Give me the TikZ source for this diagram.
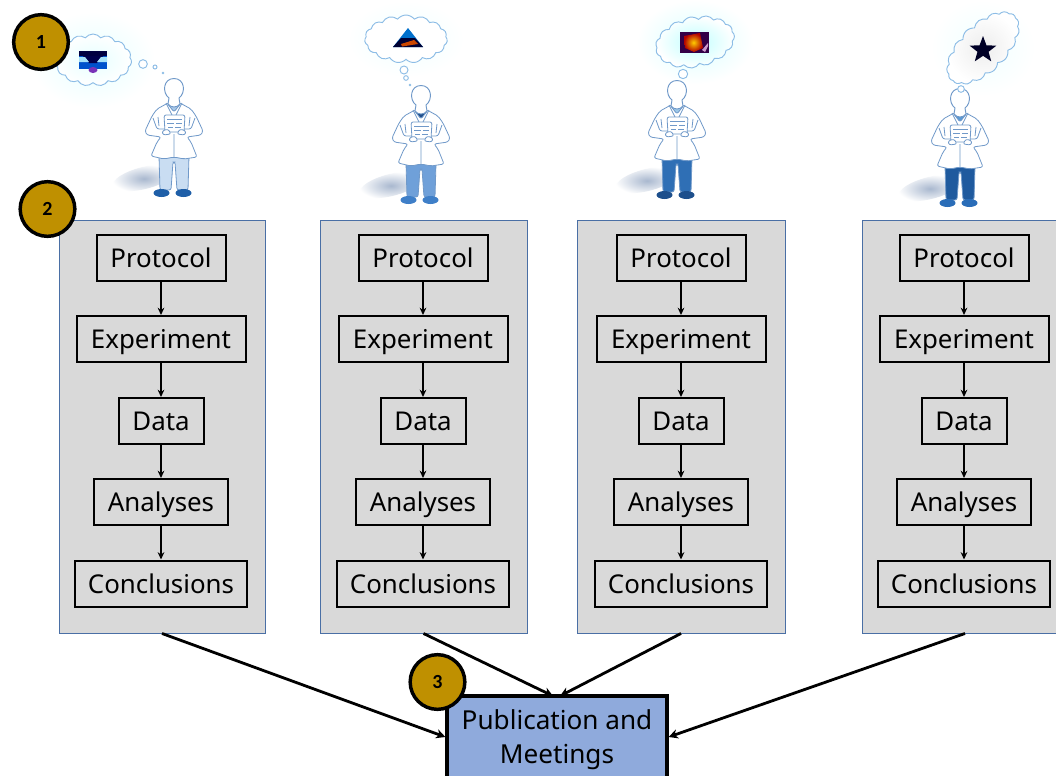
\documentclass[tikz,border=0pt]{standalone}
\usepackage{fontspec}
\setmainfont{Noto Sans}
\newfontfamily\badgefont{Carlito}
\usetikzlibrary{arrows.meta,shapes.symbols,shapes.geometric,calc}
\definecolor{panelfill}{HTML}{D9D9D9}
\definecolor{panelline}{HTML}{4A6FA5}
\definecolor{pubfill}{HTML}{8FAADC}
\definecolor{badgefill}{HTML}{BF9000}
\definecolor{figline}{HTML}{7099C9}
\definecolor{cloudline}{HTML}{8DBDE6}
\definecolor{shadowcol}{HTML}{A9B8CF}
\definecolor{pantsA}{HTML}{C9DDF2}
\definecolor{pantsB}{HTML}{6FA0D9}
\definecolor{pantsC}{HTML}{2F6FB5}
\definecolor{pantsD}{HTML}{1F5A9E}
\definecolor{shoeA}{HTML}{1F5FA8}
\definecolor{shoeB}{HTML}{3F7FC8}
\definecolor{shoeC}{HTML}{1D4F8C}
\definecolor{shoeD}{HTML}{2A6DB8}
\definecolor{shirtA}{HTML}{A8C8E8}
\definecolor{shirtB}{HTML}{1F4F8C}
\definecolor{shirtC}{HTML}{9CC8E8}
\definecolor{shirtD}{HTML}{5B9BD5}
\tikzset{
  stagebox/.style={draw=black,line width=1.5pt,fill=panelfill,minimum height=34.5pt,inner sep=0pt,text height=19pt,text depth=4.5pt,font=\fontsize{19.4}{24}\selectfont},
  flowarrow/.style={draw=black,line width=1.05pt,-{Stealth[length=5.5pt,width=5pt]}},
  mainarrow/.style={draw=black,line width=2.1pt,-{Stealth[length=7pt,width=7pt]}},
  panelbox/.style={draw=panelline,line width=.7pt,fill=panelfill,minimum height=309.75pt,inner sep=0pt},
  badge/.style={circle,draw=black,line width=2.6pt,fill=badgefill,minimum size=41pt,inner sep=0pt,font=\badgefont\bfseries\fontsize{15}{17}\selectfont},
  thought/.style={cloud,draw=cloudline,line width=.7pt,inner color=#1,outer color=white,cloud puffs=15,cloud puff arc=105,inner sep=0pt},
  bubble/.style={circle,draw=cloudline,line width=.7pt,fill=white,inner sep=0pt},
  figstroke/.style={draw=figline,line width=.6pt,rounded corners=1.6pt,line join=round},
}
% x, y of the head centre; trouser, shoe and shirt colours
\newcommand{\scientist}[5]{%
\begin{scope}[shift={(#1,#2)}]
  \shade[inner color=shadowcol,outer color=white,rotate around={14:(-30,88)}] (-30,88) ellipse [x radius=32,y radius=11];
  % legs
  \filldraw[fill=#3,figstroke] (-15,66) -- (-14,100) -- (-3,100) -- (-1,72) -- (1,72) -- (3,100) -- (14,100) -- (15,66) -- cycle;
  % shoes
  \fill[#4] (-12.5,103) ellipse [x radius=8,y radius=4];
  \fill[#4] (9.5,103) ellipse [x radius=8,y radius=4];
  % coat
  \filldraw[fill=white,figstroke] (-6,13) -- (-17,19) -- (-22,26) -- (-29,41) -- (-27,45) -- (-13,47) -- (-17,52) -- (-23,66) -- (-10,69) -- (0,67) -- (10,69) -- (23,67) -- (17,52) -- (13,47) -- (27,45) -- (29,41) -- (22,26) -- (17,19) -- (6,13) -- cycle;
  \draw[figstroke] (-21,28) -- (-17,39) -- (-8,39) (21,28) -- (17,39) -- (8,39) (0,44) -- (0,67) (-16,27) -- (-15,36) (16,27) -- (15,36);
  % shirt and lapels
  \filldraw[fill=#5,figstroke] (-7,13) -- (0,22) -- (7,13) -- cycle;
  \draw[figstroke] (-8,13) -- (-1,27) (8,13) -- (1,27);
  % head
  \filldraw[fill=white,draw=figline,line width=.7pt] (-5,8) .. controls (-12,3) and (-11,-11.5) .. (0,-11.5) .. controls (11,-11.5) and (12,3) .. (5,8) -- (6,14) .. controls (3,18) and (-3,18) .. (-6,14) -- cycle;
  % tablet
  \filldraw[fill=white,figstroke] (-10,25) -- (11,25) -- (10,42) -- (-9,42) -- cycle;
  \draw[figline,line width=.5pt] (-7,29) -- (8,29) (-7,33) -- (0,33) (2,33) -- (8,33) (-6,37) -- (-1,37) (1,37) -- (7,37);
  \filldraw[fill=white,figstroke] (-12,41) -- (-6,39) -- (-3,44) -- (-11,45) -- cycle;
  \filldraw[fill=white,figstroke] (12,41) -- (6,39) -- (3,44) -- (11,45) -- cycle;
\end{scope}}
% name, centre x, panel centre x, panel width in px
\newcommand{\stagepanel}[4]{%
  \node[panelbox,minimum width=#4*.75pt] (#1panel) at (#3,426.5) {};
  \node[stagebox,minimum width=129*.75pt] (#1prot) at (#2,257.5) {Protocol};
  \node[stagebox,minimum width=169*.75pt] (#1exp) at (#2,339) {Experiment};
  \node[stagebox,minimum width=85*.75pt] (#1data) at (#2,421) {Data};
  \node[stagebox,minimum width=134*.75pt] (#1ana) at (#2,502) {Analyses};
  \node[stagebox,minimum width=172*.75pt] (#1conc) at (#2,583.5) {Conclusions};
  \draw[flowarrow] (#1prot) -- (#1exp);
  \draw[flowarrow] (#1exp) -- (#1data);
  \draw[flowarrow] (#1data) -- (#1ana);
  \draw[flowarrow] (#1ana) -- (#1conc);
}
\begin{document}
\begin{tikzpicture}[x=.75pt,y=-.75pt]
\useasboundingbox (0,0) rectangle (1056,775);
\clip (0,0) rectangle (1056,775);
\fill[white] (0,0) rectangle (1056,775);

% soft glow behind the clouds
\shade[inner color=cyan!10,outer color=white] (93,60) ellipse [x radius=62,y radius=48];
\shade[inner color=cyan!6,outer color=white] (406,39) ellipse [x radius=58,y radius=38];
\shade[inner color=cyan!14,outer color=white] (695,42) ellipse [x radius=58,y radius=42];
\shade[inner color=cyan!6,outer color=white] (983,48) ellipse [x radius=52,y radius=48];

\scientist{174}{90}{pantsA}{shoeA}{shirtA}
\scientist{421}{97}{pantsB}{shoeB}{shirtB}
\scientist{677}{92}{pantsC}{shoeC}{shirtC}
\scientist{960}{100}{pantsD}{shoeD}{shirtD}

% thought clouds
\node[thought=cyan!10,aspect=1.45,minimum width=58pt,minimum height=39pt] (cloudA) at (93,60) {};
\node[thought=white,aspect=1.7,minimum width=62pt,minimum height=36pt] (cloudB) at (406,39) {};
\node[thought=cyan!25,aspect=1.6,minimum width=60pt,minimum height=38pt,rotate=12] (cloudC) at (695,42) {};
\node[thought=black!7,cloud puffs=17,cloud puff arc=100,aspect=1.9,minimum width=68pt,minimum height=36pt,rotate=45] (cloudD) at (983,48) {};

\node[bubble,minimum size=6.5pt] (bubA1) at (143,64) {};
\node[bubble,minimum size=3pt] (bubA2) at (155,67) {};
\node[bubble,minimum size=1.2pt] (bubA3) at (163,73) {};
\node[bubble,minimum size=6pt] (bubB1) at (404,70) {};
\node[bubble,minimum size=3.5pt] (bubB2) at (406,78) {};
\node[bubble,minimum size=1.2pt] (bubB3) at (410,85) {};
\node[bubble,minimum size=7pt] (bubC1) at (683,74) {};
\node[bubble,minimum size=5pt] (bubD1) at (961,89) {};

% thought icons
\fill[blue!60!cyan!80!black] (79,51) rectangle (107,69);
\fill[black!75!blue] (79,51) rectangle (107,56);
\fill[black!70!blue] (83,56) -- (103,56) -- (97,63) -- (89,63) -- cycle;
\fill[cyan!35!white] (79,57) -- (85,57) -- (89,62) -- (79,62) -- cycle;
\fill[cyan!35!white] (107,57) -- (101,57) -- (97,62) -- (107,62) -- cycle;
\fill[violet!70!blue!80!white] (93,70) ellipse [x radius=4.5,y radius=3];

\fill[blue!45!cyan!80!black] (408,28) -- (423,47) -- (393,47) -- cycle;
\fill[black!80!blue] (401,38) -- (415,38) -- (423,47) -- (393,47) -- cycle;
\fill[orange!70!red!80!black] (401,44) -- (414,40) -- (418,44) -- (402,46.5) -- cycle;

\fill[black!65!blue!80!red] (680,32) rectangle (709,53);
\shade[inner color=yellow!60!orange,outer color=red!70!black] (684,36) -- (700,33) -- (703,48) -- (694,52) -- (685,48) -- cycle;
\fill[violet!40!white] (702,50) -- (708,43) -- (708,46) -- (705,52) -- cycle;

\node[star,star points=5,star point ratio=2.4,fill=black!85!blue,minimum size=21pt,inner sep=0pt] (starD) at (983,50) {};

% panels
\stagepanel{a}{161}{162}{206}
\stagepanel{b}{423}{423.5}{207}
\stagepanel{c}{681}{681}{208}
\stagepanel{d}{964}{965}{206}

% publication box
\node[draw=black,line width=2.4pt,fill=pubfill,minimum width=165pt,minimum height=61.5pt,inner sep=0pt,align=center,font=\fontsize{19.6}{25.5}\selectfont] (pub) at (557,737) {\rule{0pt}{19pt}Publication and\\Meetings};
\coordinate (pubA) at (553,696);
\coordinate (pubB) at (560,696);

\draw[mainarrow] (apanel.south) -- (pub.west);
\draw[mainarrow] (bpanel.south) -- (pubA);
\draw[mainarrow] (cpanel.south) -- (pubB);
\draw[mainarrow] (dpanel.south) -- (pub.east);

% badges
\node[badge] (badgeA) at (41,42) {1};
\node[badge] (badgeB) at (47.5,209) {2};
\node[badge] (badgeC) at (437.5,682) {3};
\end{tikzpicture}
\end{document}
